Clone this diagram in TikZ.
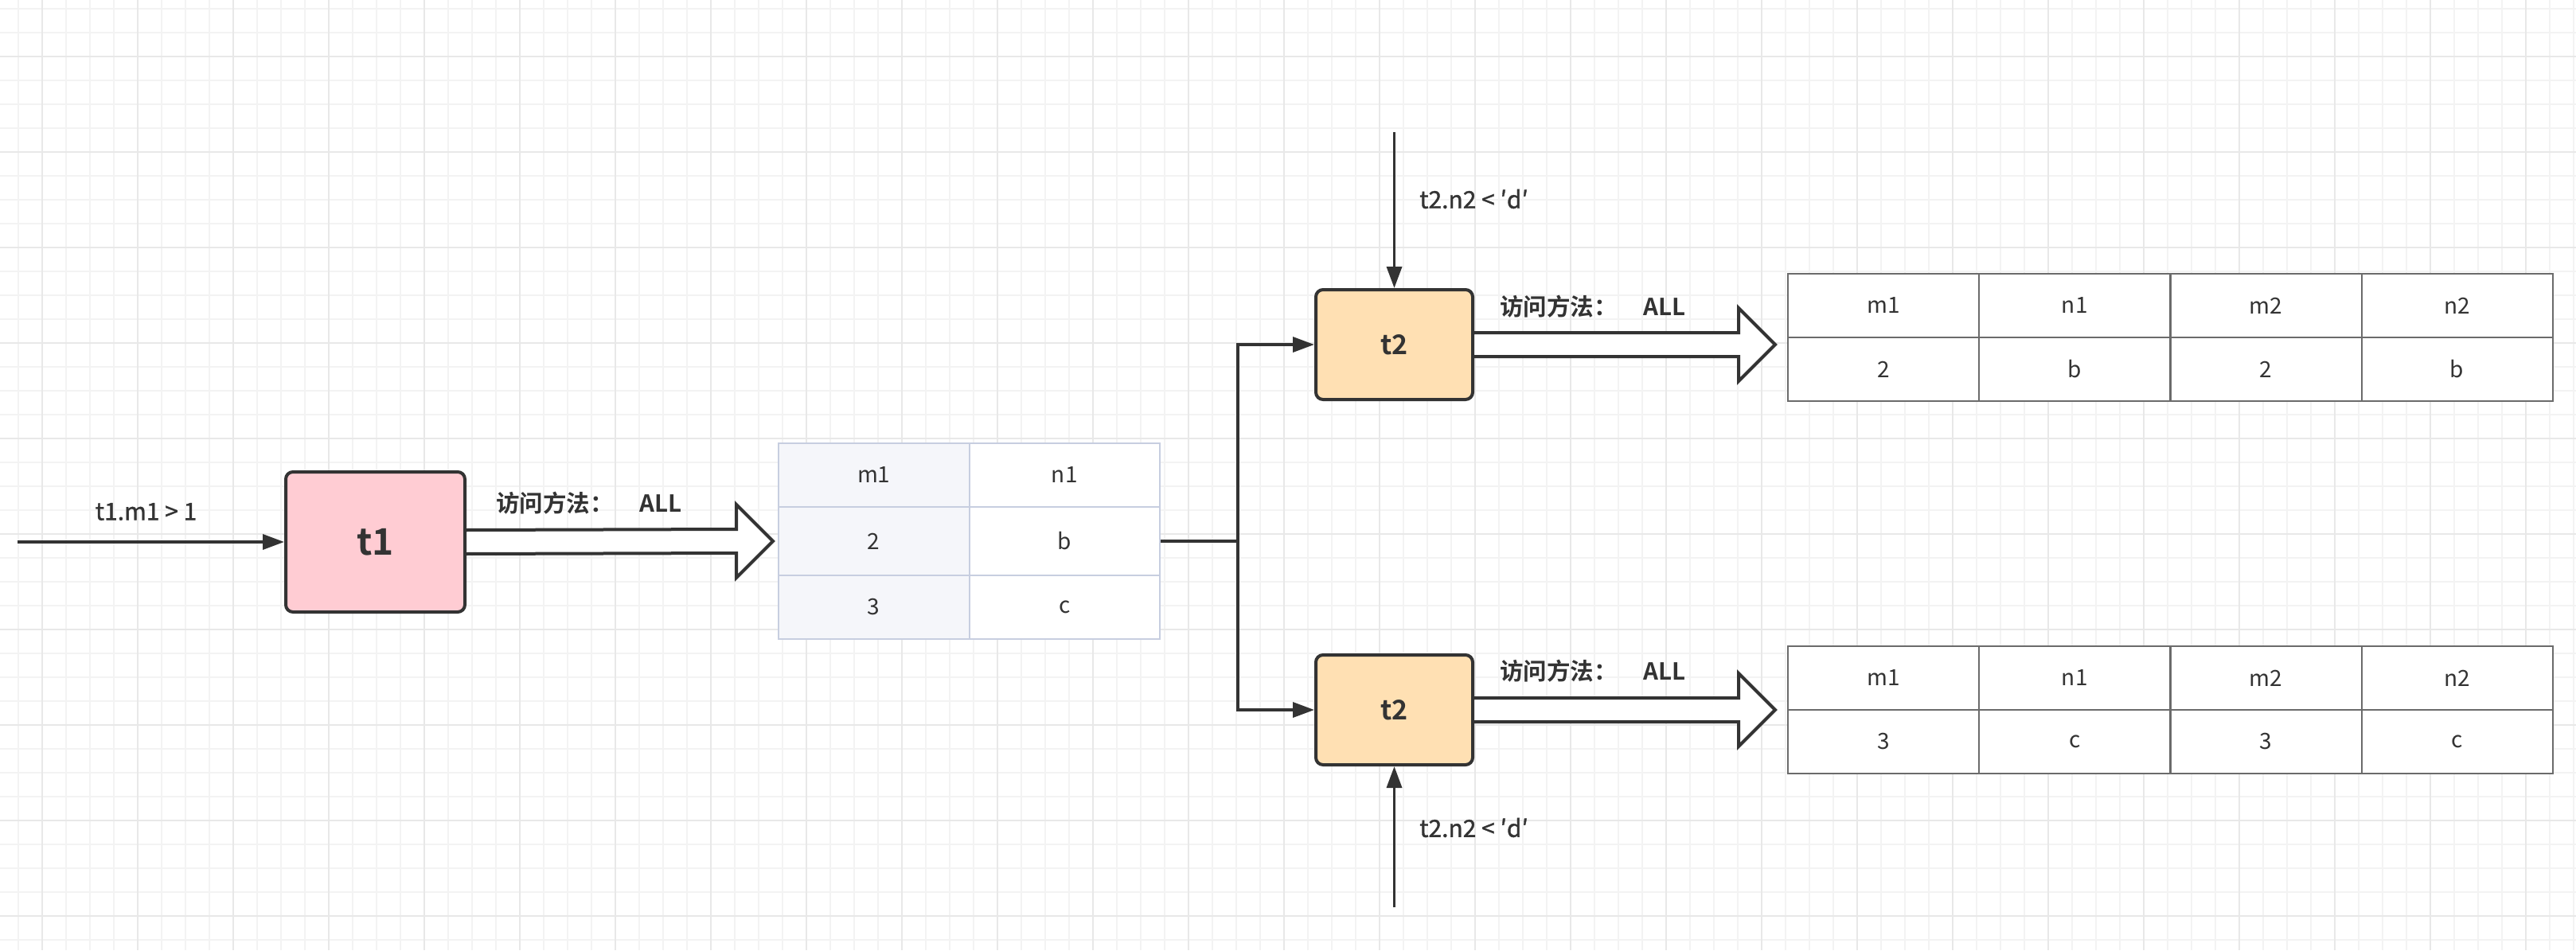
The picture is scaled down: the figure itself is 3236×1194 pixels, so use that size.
\documentclass[tikz,border=0pt]{standalone}
\usepackage{fontspec}
\setmainfont{Noto Sans CJK SC}[BoldFont={Noto Sans CJK SC Bold}]
\newfontfamily\medfont{Noto Sans CJK SC}[FakeBold=1.2]
\usetikzlibrary{arrows.meta,calc}
\definecolor{ink}{HTML}{333333}
\definecolor{gridminor}{HTML}{F3F3F3}
\definecolor{gridmajor}{HTML}{E8E8E8}
\definecolor{tonepink}{HTML}{FFCCD3}
\definecolor{toneorange}{HTML}{FFE0B3}
\definecolor{cellblue}{HTML}{F5F6FA}
\definecolor{lineblue}{HTML}{C7CEE0}
\definecolor{linegray}{HTML}{6B6B6B}
\tikzset{
  minorline/.style={draw=gridminor, line width=2pt},
  majorline/.style={draw=gridmajor, line width=2.2pt},
  tbox/.style={draw=ink, line width=4pt, rounded corners=9pt, text=ink, inner sep=0pt},
  conn/.style={draw=ink, line width=3.5pt, -{Triangle[length=27pt,width=19pt]}},
  plainline/.style={draw=ink, line width=3.5pt},
  fat/.style={draw=ink, line width=4pt, fill=white, line join=miter},
  lbl/.style={text=ink, inner sep=0pt, font=\medfont\fontsize{30}{32}\selectfont},
  boldlbl/.style={text=ink, inner sep=0pt, font=\bfseries\fontsize{29.5}{32}\selectfont},
  cellb/.style={draw=lineblue, line width=2pt, text=ink, inner sep=0pt, minimum width=239.5pt, font=\fontsize{28}{30}\selectfont},
  cellg/.style={draw=linegray, line width=2pt, text=ink, fill=white, inner sep=0pt, minimum width=240pt, minimum height=80pt, font=\fontsize{28}{30}\selectfont}
}
\begin{document}
\begin{tikzpicture}[x=1pt,y=-1pt]
\useasboundingbox (0,0) rectangle (3236,1194);
\fill[white] (0,0) rectangle (3236,1194);
% grid
\foreach \i in {0,...,107} \draw[minorline] ({22.7+30*\i},0) -- ({22.7+30*\i},1194);
\foreach \i in {0,...,39} \draw[minorline] (0,{10.7+30*\i}) -- (3236,{10.7+30*\i});
\foreach \i in {0,...,26} \draw[majorline] ({52.7+120*\i},0) -- ({52.7+120*\i},1194);
\foreach \i in {0,...,9} \draw[majorline] (0,{70.7+120*\i}) -- (3236,{70.7+120*\i});

% boxes
\node[tbox, fill=tonepink, minimum width=225pt, minimum height=176pt, font=\bfseries\fontsize{46}{48}\selectfont] (t1) at (471.5,681) {t1};
\node[tbox, fill=toneorange, minimum width=197pt, minimum height=138pt, font=\bfseries\fontsize{34}{36}\selectfont] (t2a) at (1751.5,433) {t2};
\node[tbox, fill=toneorange, minimum width=197pt, minimum height=138pt, font=\bfseries\fontsize{34}{36}\selectfont] (t2b) at (1751.5,892) {t2};

% table 1
\node[cellb, fill=cellblue, minimum height=80pt] (c11) at (1097.75,597) {m1};
\node[cellb, fill=white, minimum height=80pt] (c12) at (1337.25,597) {n1};
\node[cellb, fill=cellblue, minimum height=86pt] (c21) at (1097.75,680) {2};
\node[cellb, fill=white, minimum height=86pt] (c22) at (1337.25,680) {b};
\node[cellb, fill=cellblue, minimum height=80pt] (c31) at (1097.75,763) {3};
\node[cellb, fill=white, minimum height=80pt] (c32) at (1337.25,763) {c};

% table 2
\node[cellg] (a11) at (2366,384) {m1};
\node[cellg] (a12) at (2606.25,384) {n1};
\node[cellg] (a13) at (2846.5,384) {m2};
\node[cellg] (a14) at (3086.5,384) {n2};
\node[cellg] (a21) at (2366,464) {2};
\node[cellg] (a22) at (2606.25,464) {b};
\node[cellg] (a23) at (2846.5,464) {2};
\node[cellg] (a24) at (3086.5,464) {b};

% table 3
\node[cellg] (b11) at (2366,852) {m1};
\node[cellg] (b12) at (2606.25,852) {n1};
\node[cellg] (b13) at (2846.5,852) {m2};
\node[cellg] (b14) at (3086.5,852) {n2};
\node[cellg] (b21) at (2366,932) {3};
\node[cellg] (b22) at (2606.25,932) {c};
\node[cellg] (b23) at (2846.5,932) {3};
\node[cellg] (b24) at (3086.5,932) {c};

% input arrow to t1
\coordinate (in1) at (22,681);
\draw[conn] (in1) -- (t1.west);
\node[lbl] (l1) at (183.5,643) {t1.m1 > 1};

% fat arrow t1 -> table 1
\coordinate (f1s) at ($(t1.east)+(-2,0)$);
\coordinate (f1tip) at ($(c21.west)+(-6,0)$);
\draw[fat] ($(f1s)+(0,-15)$) -- ($(f1tip)+(-46,-15)$) -- ($(f1tip)+(-46,-46)$) -- (f1tip)
  -- ($(f1tip)+(-46,46)$) -- ($(f1tip)+(-46,15)$) -- ($(f1s)+(0,15)$) -- cycle;
\node[boldlbl, anchor=west] (l2) at (623,632) {访问方法：\hspace{1.1em}ALL};

% split connector
\coordinate (jn) at (1555,680);
\draw[plainline] (c22.east) -- (jn);
\draw[conn] (jn) |- (t2a.west);
\draw[conn] (jn) |- (t2b.west);

% vertical inputs to t2
\coordinate (q1) at (1751.5,166);
\draw[conn] (q1) -- (t2a.north);
\node[lbl, anchor=west] (l3) at (1783,250) {t2.n2 < ′d′};
\coordinate (q2) at (1751.5,1140);
\draw[conn] (q2) -- (t2b.south);
\node[lbl, anchor=west] (l4) at (1783,1040) {t2.n2 < ′d′};

% fat arrows t2 -> tables
\coordinate (f2s) at ($(t2a.east)+(-2,0)$);
\coordinate (f2tip) at ($(a11.west)+(-15,49)$);
\draw[fat] ($(f2s)+(0,-15)$) -- ($(f2tip)+(-46,-15)$) -- ($(f2tip)+(-46,-46)$) -- (f2tip)
  -- ($(f2tip)+(-46,46)$) -- ($(f2tip)+(-46,15)$) -- ($(f2s)+(0,15)$) -- cycle;
\node[boldlbl, anchor=west] (l5) at (1884,385) {访问方法：\hspace{1.1em}ALL};

\coordinate (f3s) at ($(t2b.east)+(-2,0)$);
\coordinate (f3tip) at ($(b11.west)+(-15,40)$);
\draw[fat] ($(f3s)+(0,-15)$) -- ($(f3tip)+(-46,-15)$) -- ($(f3tip)+(-46,-46)$) -- (f3tip)
  -- ($(f3tip)+(-46,46)$) -- ($(f3tip)+(-46,15)$) -- ($(f3s)+(0,15)$) -- cycle;
\node[boldlbl, anchor=west] (l6) at (1884,843) {访问方法：\hspace{1.1em}ALL};
\end{tikzpicture}
\end{document}
